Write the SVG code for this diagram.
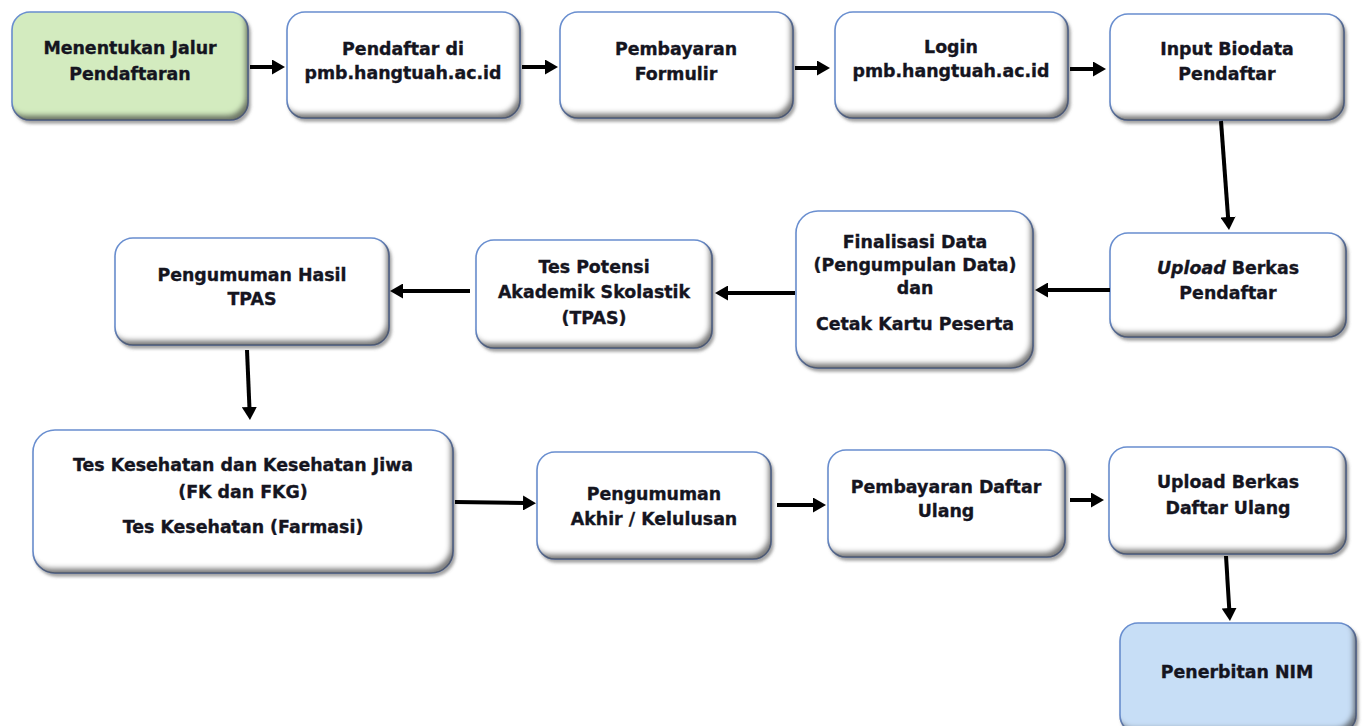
<svg xmlns="http://www.w3.org/2000/svg" width="1364" height="726" viewBox="0 0 1364 726">
<style>
.box{fill:#ffffff;stroke:#6a8fd0;stroke-width:1.6;filter:url(#bevel)}
.green{fill:#d3ebbf}
.blue{fill:#c7def6}
.t{font-family:"DejaVu Sans","Liberation Sans",sans-serif;font-weight:bold;font-size:17.4px;fill:#15151f;stroke:#15151f;stroke-width:0.35;text-anchor:middle}
.con{stroke:#000;stroke-width:4;fill:none;marker-end:url(#ah)}
</style>
<defs>
<marker id="ah" markerUnits="userSpaceOnUse" markerWidth="15" markerHeight="15" refX="2" refY="7.5" orient="auto" viewBox="0 0 15 15">
<path d="M0,0 L13,7.5 L0,15 z" fill="#000"/>
</marker>
<filter id="bevel" x="-5%" y="-8%" width="112%" height="120%">
<feOffset in="SourceAlpha" dx="2" dy="3" result="dro"/>
<feGaussianBlur in="dro" stdDeviation="1.5" result="drb"/>
<feFlood flood-color="#666" flood-opacity="0.6"/>
<feComposite in2="drb" operator="in" result="drop"/>
<feOffset in="SourceAlpha" dx="-4" dy="-6" result="off"/>
<feGaussianBlur in="off" stdDeviation="2.5" result="blur"/>
<feComposite in="SourceAlpha" in2="blur" operator="out" result="edge"/>
<feFlood flood-color="#4a4a4a" flood-opacity="0.85"/>
<feComposite in2="edge" operator="in" result="shade"/>
<feMerge><feMergeNode in="drop"/><feMergeNode in="SourceGraphic"/><feMergeNode in="shade"/></feMerge>
</filter>
</defs>

<g id="n1"><rect class="box green" x="12" y="12" width="236" height="108" rx="18"/>
<text class="t" x="130" y="54">Menentukan Jalur</text><text class="t" x="130" y="80">Pendaftaran</text></g>
<g id="n2"><rect class="box" x="287" y="12" width="233" height="106" rx="18"/>
<text class="t" x="403" y="55">Pendaftar di</text><text class="t" x="403" y="79">pmb.hangtuah.ac.id</text></g>
<g id="n3"><rect class="box" x="560" y="12" width="233" height="106" rx="18"/>
<text class="t" x="676" y="55">Pembayaran</text><text class="t" x="676" y="80">Formulir</text></g>
<g id="n4"><rect class="box" x="835" y="12" width="233" height="106" rx="18"/>
<text class="t" x="951" y="53">Login</text><text class="t" x="951" y="77">pmb.hangtuah.ac.id</text></g>
<g id="n5"><rect class="box" x="1110" y="14" width="234" height="106" rx="18"/>
<text class="t" x="1227" y="55">Input Biodata</text><text class="t" x="1227" y="80">Pendaftar</text></g>
<g id="n6"><rect class="box" x="1110" y="233" width="236" height="104" rx="18"/>
<text class="t" x="1228" y="274"><tspan font-style="italic">Upload</tspan> Berkas</text><text class="t" x="1228" y="299">Pendaftar</text></g>
<g id="n7"><rect class="box" x="796" y="211" width="237" height="157" rx="22"/>
<text class="t" x="915" y="248">Finalisasi Data</text><text class="t" x="915" y="271">(Pengumpulan Data)</text><text class="t" x="915" y="294">dan</text><text class="t" x="915" y="330">Cetak Kartu Peserta</text></g>
<g id="n8"><rect class="box" x="476" y="240" width="236" height="108" rx="18"/>
<text class="t" x="594" y="273">Tes Potensi</text><text class="t" x="594" y="298">Akademik Skolastik</text><text class="t" x="594" y="324">(TPAS)</text></g>
<g id="n9"><rect class="box" x="115" y="238" width="274" height="107" rx="18"/>
<text class="t" x="252" y="281">Pengumuman Hasil</text><text class="t" x="252" y="305">TPAS</text></g>
<g id="n10"><rect class="box" x="33" y="430" width="420" height="143" rx="22"/>
<text class="t" x="243" y="471">Tes Kesehatan dan Kesehatan Jiwa</text><text class="t" x="243" y="498">(FK dan FKG)</text><text class="t" x="243" y="533">Tes Kesehatan (Farmasi)</text></g>
<g id="n11"><rect class="box" x="537" y="452" width="234" height="107" rx="18"/>
<text class="t" x="654" y="500">Pengumuman</text><text class="t" x="654" y="525">Akhir / Kelulusan</text></g>
<g id="n12"><rect class="box" x="828" y="450" width="237" height="107" rx="18"/>
<text class="t" x="946" y="493">Pembayaran Daftar</text><text class="t" x="946" y="517">Ulang</text></g>
<g id="n13"><rect class="box" x="1109" y="447" width="237" height="107" rx="18"/>
<text class="t" x="1228" y="488">Upload Berkas</text><text class="t" x="1228" y="514">Daftar Ulang</text></g>
<g id="n14"><rect class="box blue" x="1120" y="623" width="236" height="110" rx="18"/>
<text class="t" x="1237" y="678">Penerbitan NIM</text></g>

<g id="connectors">
<path class="con" d="M250,67 H274"/>
<path class="con" d="M522,67 H547"/>
<path class="con" d="M795,68 H819"/>
<path class="con" d="M1070,69 H1095"/>
<path class="con" d="M1221,121 L1228.2,219"/>
<path class="con" d="M1110,290 H1046"/>
<path class="con" d="M795,293 H726"/>
<path class="con" d="M470,291 H401"/>
<path class="con" d="M247,350 L249.5,409"/>
<path class="con" d="M455,502 L525,503"/>
<path class="con" d="M777,505 H815"/>
<path class="con" d="M1070,500 H1093"/>
<path class="con" d="M1226,556 L1229.3,610"/>
</g>
</svg>
